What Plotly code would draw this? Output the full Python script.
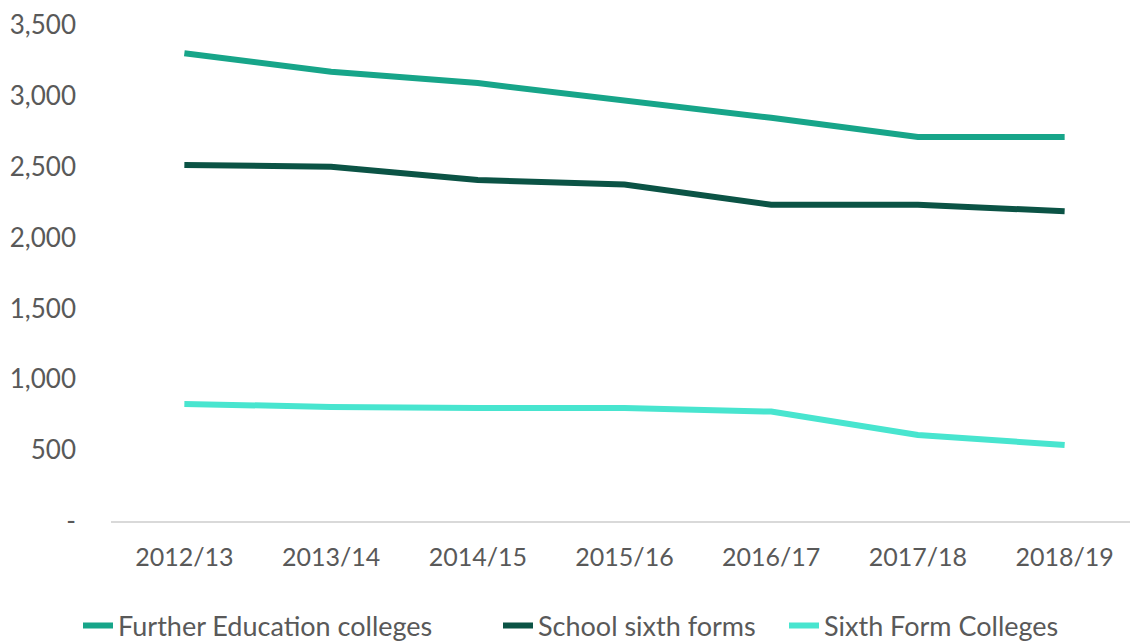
import plotly.graph_objects as go

years = ["2012/13", "2013/14", "2014/15", "2015/16", "2016/17", "2017/18", "2018/19"]
fe_colleges = [3300, 3170, 3090, 2970, 2845, 2710, 2710]
school_sixth = [2512, 2500, 2406, 2375, 2232, 2232, 2186]
sixth_form_colleges = [826, 805, 797, 797, 772, 607, 536]

y_tickvals = [0, 500, 1000, 1500, 2000, 2500, 3000, 3500]
y_ticktext = ["-", "500", "1,000", "1,500", "2,000", "2,500", "3,000", "3,500"]

font_family = "Lato, 'Open Sans', sans-serif"
# page body adds an 8px offset; size the figure to fill the visible window
W, H = 1130, 633

fig = go.Figure()
series = [
    ("Further Education colleges", fe_colleges, "#17A589", "legend", 70),
    ("School sixth forms", school_sixth, "#0B5345", "legend2", 490),
    ("Sixth Form Colleges", sixth_form_colleges, "#48E5CF", "legend3", 776),
]
legend_cfg = {}
for name, vals, color, leg, px in series:
    fig.add_trace(go.Scatter(
        x=years, y=vals, name=name, mode="lines",
        line=dict(color=color, width=6), legend=leg,
    ))
    legend_cfg[leg] = dict(
        orientation="h", x=px / W, xanchor="left", xref="container",
        y=(H - 618) / H, yanchor="middle", yref="container",
        font=dict(size=27, color="#595959"),
        bgcolor="rgba(0,0,0,0)", borderwidth=0,
    )

fig.update_layout(
    width=W, height=H,
    margin=dict(l=103, r=0, t=17, b=120, autoexpand=False),
    paper_bgcolor="white", plot_bgcolor="white",
    font=dict(family=font_family, size=25, color="#595959"),
    showlegend=True,
    xaxis=dict(
        type="category", showgrid=False, showline=True,
        linecolor="#D9D9D9", linewidth=2, ticks="",
        range=[-0.5, 6.5], tickfont=dict(size=25, color="#595959"),
        ticklabelstandoff=13,
    ),
    yaxis=dict(
        range=[0, 3500], tickvals=y_tickvals, ticktext=y_ticktext,
        showgrid=False, zeroline=False, showline=False, ticks="",
        tickfont=dict(size=26, color="#595959"), ticklabelstandoff=34,
    ),
    **legend_cfg,
)

fig.write_html("out.html")
